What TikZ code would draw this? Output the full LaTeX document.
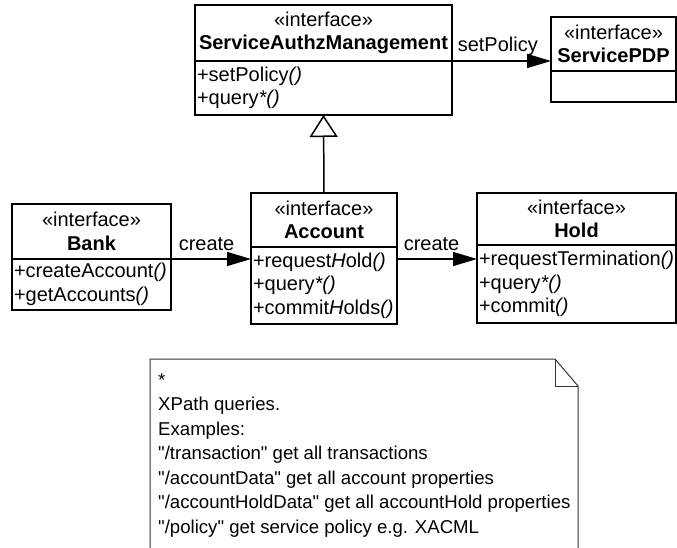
\documentclass[tikz,border=0pt]{standalone}
\usepackage{fontspec}
\setmainfont{Liberation Sans}
\usetikzlibrary{positioning,arrows.meta}

\begin{document}
\begin{tikzpicture}[x=1pt,y=-1pt,
  every node/.style={font=\fontsize{20}{23.5}\selectfont},
  head/.style={draw, line width=1.5pt, inner sep=0pt, outer sep=0pt, align=center},
  ops/.style={draw, line width=1.5pt, inner xsep=2pt, inner ysep=0pt, outer sep=0pt, align=left},
  lbl/.style={anchor=base west, inner sep=0pt, xshift=5pt, yshift=9pt},
  call/.style={line width=1.5pt, -{Triangle[length=24pt,width=14pt]}},
  realize/.style={line width=1.5pt, -{Triangle[open,length=22pt,width=28pt]}}]
\useasboundingbox (0,0) rectangle (677,548);
% classes
\node[head, anchor=north west, minimum width=257pt, minimum height=56pt] (samH) at (195,5)
  {\guillemotleft interface\guillemotright\\\textbf{ServiceAuthzManagement}};
\node[ops, below right=0pt and 0pt of samH.south west, text width=253pt, minimum height=54pt] (samB)
  {+setPolicy\textit{()}\\+query\textit{*()}};
\node[head, anchor=north west, minimum width=125pt, minimum height=54pt] (pdpH) at (551,17)
  {\guillemotleft interface\guillemotright\\\textbf{ServicePDP}};
\node[ops, below right=0pt and 0pt of pdpH.south west, text width=121pt, minimum height=31pt] (pdpB) {};
\node[head, anchor=north west, minimum width=159pt, minimum height=55pt] (bankH) at (12,204)
  {\guillemotleft interface\guillemotright\\\textbf{Bank}};
\node[ops, below right=0pt and 0pt of bankH.south west, text width=155pt, minimum height=51pt] (bankB)
  {+createAccount\textit{()}\\+getAccounts\textit{()}};
\node[head, anchor=north west, minimum width=146pt, minimum height=54pt] (accH) at (251,193)
  {\guillemotleft interface\guillemotright\\\textbf{Account}};
\node[ops, below right=0pt and 0pt of accH.south west, text width=142pt, minimum height=77pt] (accB)
  {+request\textit{H}old\textit{()}\\+query\textit{*()}\\+commit\textit{H}olds\textit{()}};
\node[head, anchor=north west, minimum width=199pt, minimum height=52pt] (holdH) at (477,193)
  {\guillemotleft interface\guillemotright\\\textbf{Hold}};
\node[ops, below right=0pt and 0pt of holdH.south west, text width=195pt, minimum height=78pt] (holdB)
  {+requestTermination\textit{()}\\+query\textit{*()}\\+commit\textit{()}};
% connectors
\draw[call] (samH.south east) -- (samH.south east -| pdpH.west)
  node[lbl, pos=0] {setPolicy};
\draw[call] (bankH.south east) -- (bankH.south east -| accH.west)
  node[lbl, pos=0, xshift=2pt] {create};
\draw[call] (bankH.south east -| accH.east) -- (bankH.south east -| holdH.west)
  node[lbl, pos=0, xshift=1pt] {create};
\draw[realize] (accH.north) -- (samB.south);
% note
\draw[line width=1pt, black!80] (150,548) -- (150,359) -- (555,359) -- (578,386) -- (578,548);
\draw[line width=1pt, black!80] (555,359) -- (555,386) -- (578,386);
\node[anchor=north west, align=left, inner sep=0pt,
  font=\fontsize{18.6}{24.5}\selectfont] (notetext) at (158,373)
  {*\\XPath queries.\\Examples:\\\textquotedbl/transaction\textquotedbl{} get all transactions\\
   \textquotedbl/accountData\textquotedbl{} get all account properties\\
   \textquotedbl/accountHoldData\textquotedbl{} get all accountHold properties\\
   \textquotedbl/policy\textquotedbl{} get service policy e.g. XACML};
\end{tikzpicture}
\end{document}
